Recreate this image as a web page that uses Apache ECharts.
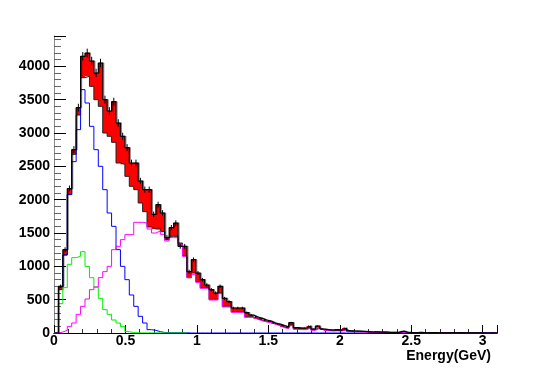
<!DOCTYPE html>
<html><head><meta charset="utf-8">
<script src="https://cdn.jsdelivr.net/npm/echarts@6/dist/echarts.min.js"></script>
<style>html,body{margin:0;padding:0;background:#fff}#c{width:554px;height:372px}</style>
</head><body><div id="c"></div>
<script>
// Histogram: 100 bins of 0.031 GeV from 0 to 3.1 GeV
const binWidth = 0.031;
const xMin = 0, xMax = 3.1, yMax = 4455;

// Data (black histogram, top of red band)
const dataTotal = [
  0, 700, 1250, 2165, 2750, 3380, 4150, 4200, 4080, 3900,
  4050, 3500, 3330, 3470, 3150, 2950, 2780, 2550, 2550, 2280,
  2150, 2150, 1780, 1925, 1800, 1430, 1580, 1650, 1300, 1300,
  920, 1100, 900, 800, 720, 650, 600, 700, 520, 470,
  375, 375, 375, 305, 270, 240, 220, 195, 180, 150,
  135, 110, 90, 155, 80, 75, 75, 105, 60, 105,
  60, 50, 45, 50, 45, 75, 33, 30, 28, 25,
  22, 15, 18, 12, 15, 10, 8, 12, 28, 8,
  6, 5, 8, 4, 5, 6, 3, 3, 2, 5,
  4, 6, 3, 2, 1, 2, 1, 0, 1, 0
];
// Lower edge of the red band
const bandLow = [
  0, 650, 1170, 2080, 2680, 3270, 3830, 3850, 3700, 3500,
  3400, 3000, 2950, 2860, 2550, 2530, 2350, 2200, 2150, 1950,
  1820, 1590, 1560, 1560, 1520, 1400, 1450, 1450, 1350, 1160,
  830, 900, 770, 680, 680, 505, 505, 600, 400, 400,
  320, 320, 320, 245, 245, 215, 195, 175, 165, 140,
  120, 90, 75, 120, 65, 60, 60, 85, 50, 80,
  50, 42, 38, 40, 38, 55, 28, 25, 22, 20,
  18, 12, 14, 10, 12, 8, 6, 9, 20, 6,
  5, 4, 6, 3, 4, 5, 2, 2, 1, 3,
  3, 4, 2, 1, 0, 1, 0, 0, 0, 0
];
// Blue component
const compBlue = [
  0, 690, 1170, 2075, 2570, 3050, 3650, 3450, 3100, 2750,
  2500, 2150, 1800, 1600, 1250, 1000, 800, 570, 400, 250,
  150, 50, 40, 20, 8, 5, 5, 5, 3, 3,
  0, 0, 0, 0, 0, 0, 0, 0, 0, 0,
  0, 0, 0, 0, 0, 0, 0, 0, 0, 0,
  0, 0, 0, 0, 0, 0, 0, 0, 0, 0,
  0, 0, 0, 0, 0, 0, 0, 0, 0, 0,
  0, 0, 0, 0, 0, 0, 0, 0, 0, 0,
  0, 0, 0, 0, 0, 0, 0, 0, 0, 0,
  0, 0, 0, 0, 0, 0, 0, 0, 0, 0
];
// Green component
const compGreen = [
  0, 440, 680, 1030, 1130, 1150, 1220, 1000, 830, 690,
  520, 350, 280, 195, 150, 95, 20, 5, 3, 2,
  2, 2, 2, 2, 2, 1, 1, 1, 1, 0
];
// Magenta component
const compMagenta = [
  0, 15, 40, 100, 150, 280, 400, 510, 650, 690,
  830, 920, 1000, 1250, 1300, 1400, 1475, 1475, 1660, 1660,
  1650, 1560, 1500, 1530, 1480, 1380, 1430, 1430, 1330, 1150,
  830, 880, 760, 670, 670, 495, 495, 590, 390, 390,
  310, 310, 310, 235, 235, 205, 185, 165, 155, 130,
  110, 80, 65, 110, 55, 50, 50, 75, 40, 70,
  40, 35, 30, 32, 30, 45, 22, 20, 18, 15,
  14, 10, 12, 8, 10, 6, 5, 7, 15, 5,
  4, 3, 5, 2, 3, 4, 1, 1, 0, 2,
  2, 3, 1, 0, 0, 0, 0, 0, 0, 0
];

function stepPoints(vals) {
  const pts = vals.map((v, i) => [i * binWidth, v]);
  pts.push([vals.length * binWidth, vals[vals.length - 1]]);
  return pts;
}

const font = '"Liberation Sans", Arial, Helvetica, sans-serif';
const chart = echarts.init(document.getElementById('c'), null, {renderer: 'canvas'});

function stepLine(name, vals, color, z, width) {
  return {
    type: 'line', name, data: stepPoints(vals), step: 'end', symbol: 'none', z,
    lineStyle: {color, width: width || 1}, silent: true
  };
}

chart.setOption({
  animation: false,
  backgroundColor: '#fff',
  title: {
    text: 'Energy(GeV)', right: 63, top: 349, padding: 0,
    textStyle: {fontFamily: font, fontSize: 14, fontWeight: 'bold', color: '#000'}
  },
  grid: {left: 54, right: 57, top: 36, bottom: 39, containLabel: false},
  xAxis: [{
    type: 'value', min: xMin, max: xMax, interval: 0.5, position: 'bottom',
    axisLine: {show: true, lineStyle: {color: '#000', width: 1}},
    axisTick: {show: true, inside: true, length: 8, lineStyle: {color: '#000'}},
    minorTick: {show: true, splitNumber: 5, length: 4, lineStyle: {color: '#333'}},
    axisLabel: {fontFamily: font, fontSize: 14, fontWeight: 'bold', color: '#000', margin: 1, showMaxLabel: false},
    splitLine: {show: false}
  }, {
    type: 'value', min: xMin, max: xMax, position: 'top',
    axisLine: {show: true, lineStyle: {color: '#000', width: 1}},
    axisTick: {show: false}, axisLabel: {show: false}, splitLine: {show: false}
  }],
  yAxis: [{
    type: 'value', min: 0, max: yMax, interval: 500,
    axisLine: {show: false},
    axisTick: {show: true, inside: true, length: 12, lineStyle: {color: '#000'}},
    minorTick: {show: true, splitNumber: 5, length: 7, lineStyle: {color: '#666'}},
    axisLabel: {fontFamily: font, fontSize: 14, fontWeight: 'bold', color: '#000', margin: 4, showMaxLabel: false,
                formatter: v => String(v)},
    splitLine: {show: false}
  }, {
    type: 'value', min: 0, max: yMax, position: 'right',
    axisLine: {show: true, lineStyle: {color: '#888', width: 1}},
    axisTick: {show: false}, axisLabel: {show: false}, splitLine: {show: false}
  }],
  series: [
    {type: 'custom', name: 'band', z: 2, silent: true,
     data: [[0, 0]], encode: {x: 0, y: 1},
     renderItem: function (params, api) {
       const pts = [];
       for (let i = 0; i < dataTotal.length; i++) {
         pts.push(api.coord([i * binWidth, dataTotal[i]]));
         pts.push(api.coord([(i + 1) * binWidth, dataTotal[i]]));
       }
       for (let i = bandLow.length - 1; i >= 0; i--) {
         pts.push(api.coord([(i + 1) * binWidth, bandLow[i]]));
         pts.push(api.coord([i * binWidth, bandLow[i]]));
       }
       return {type: 'polygon', shape: {points: pts}, style: {fill: '#ff0000', stroke: null}};
     }},
    stepLine('bandLow', bandLow, '#222', 2.5),
    stepLine('blue', compBlue, '#0000ff', 3),
    stepLine('green', compGreen, '#00ee00', 4),
    stepLine('magenta', compMagenta, '#ff00ff', 5),
    {type: 'line', name: 'data', data: stepPoints(dataTotal), step: 'end', symbol: 'none', z: 6,
     lineStyle: {color: '#000', width: 1.2, shadowColor: 'rgba(0,0,0,0.45)', shadowOffsetX: 1, shadowOffsetY: 0, shadowBlur: 0},
     silent: true},
    {type: 'custom', name: 'errors', z: 7, silent: true,
     data: dataTotal.map((v, i) => [(i + 0.5) * binWidth, v]),
     encode: {x: 0, y: 1},
     renderItem: function (params, api) {
       const x = api.value(0), v = api.value(1);
       if (!(v > 0)) return null;
       const e = Math.sqrt(v);
       const top = api.coord([x, v + e]);
       const bot = api.coord([x, v - e]);
       return {type: 'line', shape: {x1: top[0], y1: top[1], x2: bot[0], y2: bot[1]},
               style: {stroke: '#000', lineWidth: 1}};
     }}
  ]
});
</script></body></html>
